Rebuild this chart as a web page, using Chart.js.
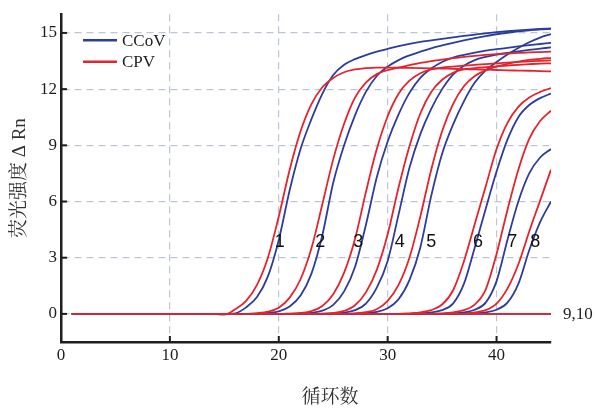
<!DOCTYPE html>
<html>
<head>
<meta charset="utf-8">
<script src="https://cdn.jsdelivr.net/npm/chart.js@4.4.1/dist/chart.umd.min.js"></script>
<style>
  html, body { margin: 0; padding: 0; background: #fff; }
</style>
</head>
<body>
<canvas id="pcr" width="597" height="408"></canvas>
<script>
// cycle numbers 1..45
const cycles = [1,2,3,4,5,6,7,8,9,10,11,12,13,14,15,16,17,18,19,20,21,22,23,24,25,26,27,28,29,30,31,32,33,34,35,36,37,38,39,40,41,42,43,44,45];
const xTicks = [0, 10, 20, 30, 40];
const yTicks = [0, 3, 6, 9, 12, 15];

// CCoV (blue) delta Rn, samples 1-8
const ccov1 = [0,0,0,0,0, 0,0,0,0,0, 0,0,0,0,0, 0.03,0.35,0.9,2.0,3.95, 6.6,8.8,10.4,11.75,12.75, 13.3,13.6,13.82,14.0,14.15, 14.3,14.42,14.52,14.6,14.68, 14.76,14.84,14.91,14.98,15.04, 15.09,15.13,15.17,15.21,15.24];
const ccov2 = [0,0,0,0,0, 0,0,0,0,0, 0,0,0,0,0, 0,0,0, 0.05,0.14,0.4,0.98,2.15, 4.2,7.0,9.0,10.6,11.85, 12.7,13.2,13.55,13.8,14.0, 14.18,14.33,14.47,14.6,14.72, 14.83,14.93,15.01,15.08,15.14, 15.19,15.22];
const ccov3 = [0,0,0,0,0, 0,0,0,0,0, 0,0,0,0,0, 0,0,0,0,0, 0, 0.02,0.06,0.17,0.48,1.2, 2.5,4.75,7.3,9.2,10.65, 11.8,12.6,13.1,13.45,13.68, 13.83,13.95,14.05,14.13,14.2, 14.28,14.35,14.41,14.47];
const ccov4 = [0,0,0,0,0, 0,0,0,0,0, 0,0,0,0,0, 0,0,0,0,0, 0,0,0,0, 0.02,0.07,0.2,0.55,1.4, 2.83,5.3,7.8,9.6,10.95, 12.0,12.78,13.25,13.55,13.72, 13.84,13.93,14.01,14.09,14.16, 14.23];
const ccov5 = [0,0,0,0,0, 0,0,0,0,0, 0,0,0,0,0, 0,0,0,0,0, 0,0,0,0,0, 0, 0.01,0.04,0.11,0.3,0.78, 1.8,3.55,6.3,8.55,10.1, 11.35,12.35,13.0,13.45,13.85, 14.2,14.5,14.75,14.94];
const ccov6 = [0,0,0,0,0, 0,0,0,0,0, 0,0,0,0,0, 0,0,0,0,0, 0,0,0,0,0, 0,0,0,0,0, 0,0, 0.03,0.08,0.2,0.55,1.6, 3.55,5.6,7.6,9.3,10.5, 11.15,11.52,11.76];
const ccov7 = [0,0,0,0,0, 0,0,0,0,0, 0,0,0,0,0, 0,0,0,0,0, 0,0,0,0,0, 0,0,0,0,0, 0,0,0,0,0, 0.03,0.08,0.22,0.6,1.75, 3.95,6.0,7.5,8.35,8.8];
const ccov8 = [0,0,0,0,0, 0,0,0,0,0, 0,0,0,0,0, 0,0,0,0,0, 0,0,0,0,0, 0,0,0,0,0, 0,0,0,0,0, 0,0, 0.03,0.08,0.22,0.6,1.6, 3.4,4.9,6.0];

// CPV (red) delta Rn, samples 1-8
const cpv1 = [0,0,0,0,0, 0,0,0,0,0, 0,0,0,0, -0.04, 0.25,0.7,1.55,3.0,5.2, 7.7,9.75,11.2,12.1,12.6, 12.9,13.05,13.12,13.15,13.15, 13.14,13.13,13.12,13.11,13.1, 13.08,13.07,13.05,13.04,13.02, 13.0,12.99,12.98,12.96,12.95];
const cpv2 = [0,0,0,0,0, 0,0,0,0,0, 0,0,0,0,0, 0,0, 0.04,0.12,0.33,0.87,1.85, 3.5,5.85,8.25,10.15,11.55, 12.35,12.8,13.02,13.15,13.28, 13.4,13.5,13.58,13.65,13.72, 13.78,13.83,13.87,13.9,13.93, 13.96,13.98,14.0];
const cpv3 = [0,0,0,0,0, 0,0,0,0,0, 0,0,0,0,0, 0,0,0,0,0, 0.02,0.05,0.15,0.42,1.05, 2.2,4.0,6.5,8.8,10.55, 11.75,12.45,12.85,13.05,13.15, 13.2,13.25,13.3,13.33,13.37, 13.41,13.45,13.48,13.51,13.53];
const cpv4 = [0,0,0,0,0, 0,0,0,0,0, 0,0,0,0,0, 0,0,0,0,0, 0,0,0, 0.02,0.05,0.16,0.46,1.15, 2.35,4.25,6.75,8.95,10.7, 11.85,12.5,12.87,13.05,13.12, 13.17,13.22,13.26,13.3,13.33, 13.36,13.38];
const cpv5 = [0,0,0,0,0, 0,0,0,0,0, 0,0,0,0,0, 0,0,0,0,0, 0,0,0,0,0, 0, 0.03,0.09,0.25,0.7,1.55, 3.0,5.2,7.7,9.75,11.2, 12.15,12.7,13.0,13.2,13.35, 13.47,13.56,13.62,13.66];
const cpv6 = [0,0,0,0,0, 0,0,0,0,0, 0,0,0,0,0, 0,0,0,0,0, 0,0,0,0,0, 0,0,0,0,0, 0, 0.03,0.08,0.2,0.5,1.25, 2.8,4.8,6.8,8.8,10.2, 11.05,11.55,11.85,12.06];
const cpv7 = [0,0,0,0,0, 0,0,0,0,0, 0,0,0,0,0, 0,0,0,0,0, 0,0,0,0,0, 0,0,0,0,0, 0,0,0,0, 0.03,0.08,0.2,0.5,1.3, 3.2,5.55,7.7,9.35,10.3, 10.85];
const cpv8 = [0,0,0,0,0, 0,0,0,0,0, 0,0,0,0,0, 0,0,0,0,0, 0,0,0,0,0, 0,0,0,0,0, 0,0,0,0,0, 0, 0.03,0.08,0.2,0.55,1.35, 2.65,4.4,6.05,7.7];

// samples 9 and 10: no amplification
const negative = [0,0,0,0,0, 0,0,0,0,0, 0,0,0,0,0, 0,0,0,0,0, 0,0,0,0,0, 0,0,0,0,0, 0,0,0,0,0, 0,0,0,0,0, 0,0,0,0,0];

const ccovSeries = [ccov1, ccov2, ccov3, ccov4, ccov5, ccov6, ccov7, ccov8];
const cpvSeries = [cpv1, cpv2, cpv3, cpv4, cpv5, cpv6, cpv7, cpv8];
const sampleNames = ['1', '2', '3', '4', '5', '6', '7', '8'];

const BLUE = '#2c3e9c';
const RED = '#e5232d';
const GRID = '#bcc6d4';
const INK = '#1e1e1e';
const SERIF = "'Liberation Serif', 'Times New Roman', serif";
const CJK = "'Liberation Serif', 'Noto Serif CJK SC', 'Noto Sans CJK SC', serif";

function curve(label, values, color) {
  return {
    label: label,
    data: values,
    borderColor: color,
    borderWidth: 1.8,
    pointRadius: 0,
    fill: false,
    cubicInterpolationMode: 'monotone'
  };
}

const datasets = [curve('CPV 9,10', negative, RED), curve('CCoV 9,10', negative, BLUE)];
for (let i = 0; i < 8; i++) {
  datasets.push(curve('CPV ' + sampleNames[i], cpvSeries[i], RED));
  datasets.push(curve('CCoV ' + sampleNames[i], ccovSeries[i], BLUE));
}

// where the sample numbers sit (cycle, delta Rn)
const nameSpots = [[20.1, 3.85], [23.8, 3.85], [27.3, 3.85], [31.1, 3.85], [34.0, 3.85], [38.3, 3.85], [41.45, 3.85], [43.55, 3.85]];

const decorations = {
  id: 'decorations',
  afterDraw(chart) {
    const { ctx, chartArea: a, scales: { x, y } } = chart;
    ctx.save();

    // inward tick marks
    ctx.strokeStyle = INK;
    ctx.lineWidth = 2;
    xTicks.forEach(v => {
      if (v === 0) return;
      const px = x.getPixelForValue(v);
      ctx.beginPath();
      ctx.moveTo(px, a.bottom);
      ctx.lineTo(px, a.bottom - 6);
      ctx.stroke();
    });
    yTicks.forEach(v => {
      const py = y.getPixelForValue(v);
      ctx.beginPath();
      ctx.moveTo(a.left, py);
      ctx.lineTo(a.left + 6, py);
      ctx.stroke();
    });

    // legend
    const legend = [['CCoV', BLUE], ['CPV', RED]];
    legend.forEach((item, i) => {
      const ly = a.top + 26 + i * 21.5;
      ctx.strokeStyle = item[1];
      ctx.lineWidth = 2.5;
      ctx.beginPath();
      ctx.moveTo(a.left + 22, ly);
      ctx.lineTo(a.left + 56, ly);
      ctx.stroke();
      ctx.fillStyle = INK;
      ctx.font = '17px ' + SERIF;
      ctx.textAlign = 'left';
      ctx.textBaseline = 'middle';
      ctx.fillText(item[0], a.left + 61, ly + 1);
    });

    // sample numbers
    ctx.fillStyle = '#111';
    ctx.font = "18px 'Liberation Sans', Arial, sans-serif";
    ctx.textAlign = 'center';
    ctx.textBaseline = 'middle';
    nameSpots.forEach((p, i) => {
      ctx.fillText(sampleNames[i], x.getPixelForValue(p[0]), y.getPixelForValue(p[1]));
    });

    // negatives label at the right end
    ctx.fillStyle = INK;
    ctx.font = '17px ' + SERIF;
    ctx.textAlign = 'left';
    ctx.fillText('9,10', x.getPixelForValue(45) + 12, y.getPixelForValue(0) + 1);

    // x axis title
    ctx.font = '19px ' + CJK;
    ctx.textAlign = 'center';
    ctx.fillStyle = '#333';
    ctx.fillText('循环数', 330, 398);

    ctx.restore();
  }
};

new Chart(document.getElementById('pcr'), {
  type: 'line',
  data: { labels: cycles, datasets: datasets },
  options: {
    responsive: false,
    animation: false,
    events: [],
    layout: { padding: { left: 0, top: 10, right: 46, bottom: 0 } },
    plugins: { legend: { display: false }, tooltip: { enabled: false } },
    scales: {
      x: {
        type: 'linear',
        min: 0,
        max: 45,
        afterBuildTicks: axis => { axis.ticks = xTicks.map(v => ({ value: v })); },
        afterFit: axis => { axis.height = 66; },
        grid: { color: GRID, lineWidth: 1.2, drawTicks: false },
        border: { display: true, color: INK, width: 2.5, dash: [7, 5] },
        ticks: { color: INK, padding: 3, maxRotation: 0, font: { family: SERIF, size: 17 } }
      },
      y: {
        type: 'linear',
        min: -1.5,
        max: 16,
        afterBuildTicks: axis => { axis.ticks = yTicks.map(v => ({ value: v })); },
        afterFit: axis => { axis.width = 61; },
        grid: { color: GRID, lineWidth: 1.2, drawTicks: false },
        border: { display: true, color: INK, width: 2.5, dash: [7, 5] },
        ticks: { color: INK, padding: 4, font: { family: SERIF, size: 17 } },
        title: {
          display: true,
          text: '荧光强度 Δ Rn',
          color: '#333',
          padding: { top: 9, bottom: 0 },
          font: { family: CJK, size: 19 }
        }
      }
    }
  },
  plugins: [decorations]
});
</script>
</body>
</html>
